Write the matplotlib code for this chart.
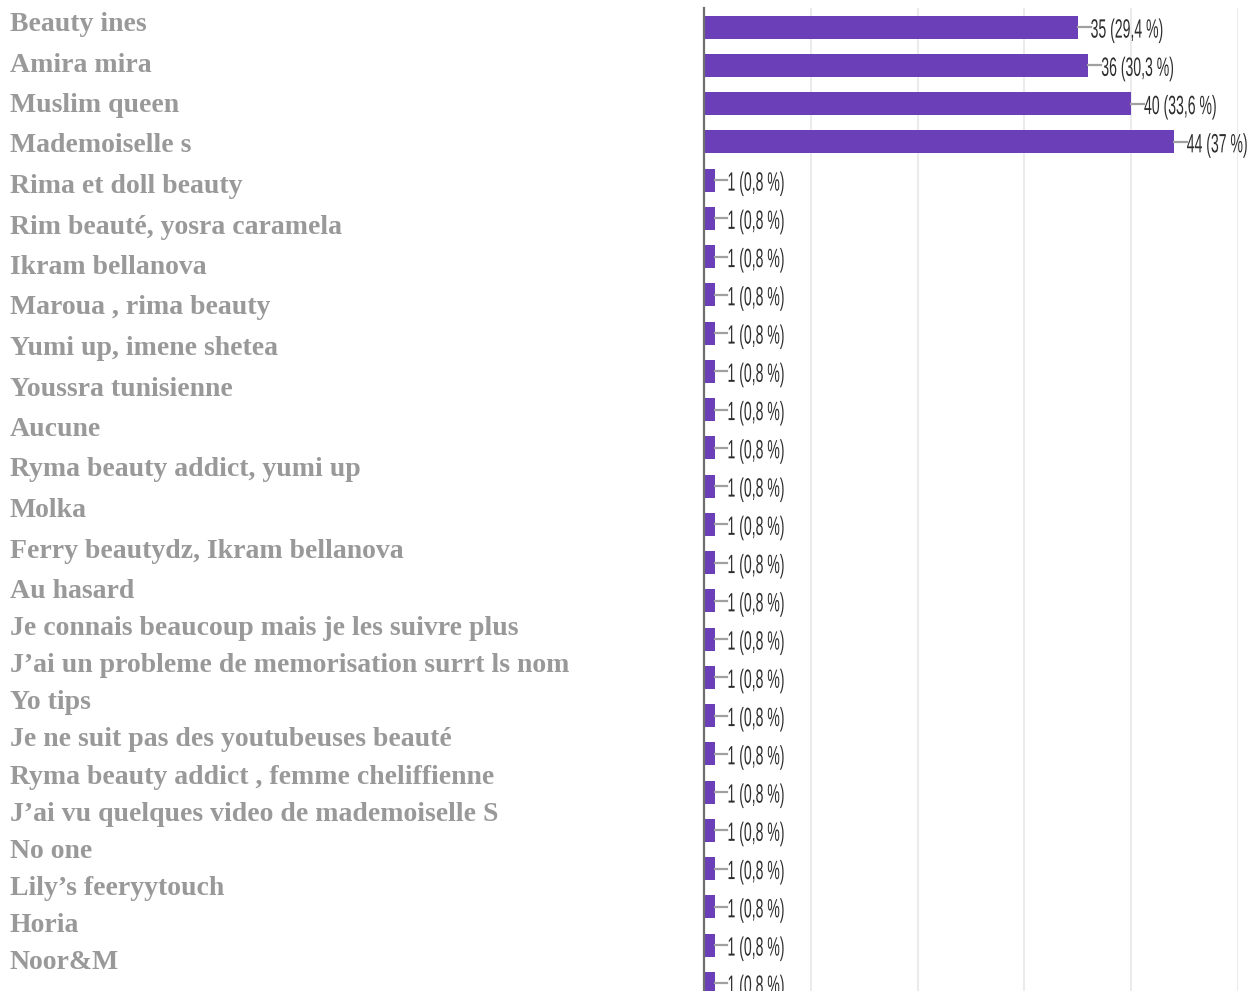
import matplotlib.pyplot as plt
from matplotlib.textpath import TextPath
from matplotlib.patches import PathPatch
from matplotlib.font_manager import FontProperties
from matplotlib.transforms import Affine2D, IdentityTransform

labels = ["Beauty ines", "Amira mira", "Muslim queen", "Mademoiselle s",
          "Rima et doll beauty", "Rim beauté, yosra caramela", "Ikram bellanova",
          "Maroua , rima beauty", "Yumi up, imene shetea", "Youssra tunisienne",
          "Aucune", "Ryma beauty addict, yumi up", "Molka",
          "Ferry beautydz, Ikram bellanova", "Au hasard",
          "Je connais beaucoup mais je les suivre plus",
          "J\u2019ai un probleme de memorisation surrt ls nom", "Yo tips",
          "Je ne suit pas des youtubeuses beauté",
          "Ryma beauty addict , femme cheliffienne",
          "J\u2019ai vu quelques video de mademoiselle S", "No one",
          "Lily\u2019s feeryytouch", "Horia", "Noor&M"]

counts = [35, 36, 40, 44] + [1] * 22
pcts = ["29,4", "30,3", "33,6", "37"] + ["0,8"] * 22

W, H = 1253, 991
fig = plt.figure(figsize=(W / 100, H / 100), dpi=100)
ax = fig.add_axes([704 / W, 0, (1238 - 704) / W, (H - 8) / H])

ypos = list(range(len(counts)))
ax.barh(ypos, counts, height=0.6, color='#6a3fb8', zorder=3)

ax.set_xlim(0, 50)
ax.set_ylim(25.2, -0.5)
ax.set_xticks([10, 20, 30, 40, 50])
ax.set_yticks([])
ax.tick_params(axis='x', length=0, labelbottom=False)
ax.grid(axis='x', color='#ebebeb', lw=1.5, zorder=0)
for s in ['top', 'right', 'bottom']:
    ax.spines[s].set_visible(False)
ax.spines['left'].set_color('#6e6e6e')
ax.spines['left'].set_linewidth(1.6)
ax.spines['left'].set_zorder(5)

# condensed value labels (font squeezed horizontally)
fp = FontProperties(family='Liberation Sans')
em = 26.5
for y, c, p in zip(ypos, counts, pcts):
    ax.plot([c, c + 1.2], [y, y], color='#a0a0a0', lw=1.6, zorder=3, clip_on=False)
    ox, oy = ax.transData.transform((c + 1.2, y))
    tp = TextPath((0, 0), f"{c} ({p} %)", size=1, prop=fp)
    tr = Affine2D().scale(em * 0.53, em).translate(ox, oy - 0.358 * em - 1)
    fig.add_artist(PathPatch(tr.transform_path(tp), transform=IdentityTransform(),
                             facecolor='#2e2e2e', edgecolor='none', zorder=6))

# category names drawn at the left, as in the screenshot
for i, lab in enumerate(labels):
    if i < 15:
        yb = 31 + 40.5 * i
    else:
        yb = 31 + 40.5 * 14 + 37.1 * (i - 14)
    fig.text(10 / W, 1 - yb / H, lab, ha='left', va='baseline', fontsize=20,
             family='Liberation Serif', weight='bold', color='#999999')

fig.savefig('out.png', dpi=100)
